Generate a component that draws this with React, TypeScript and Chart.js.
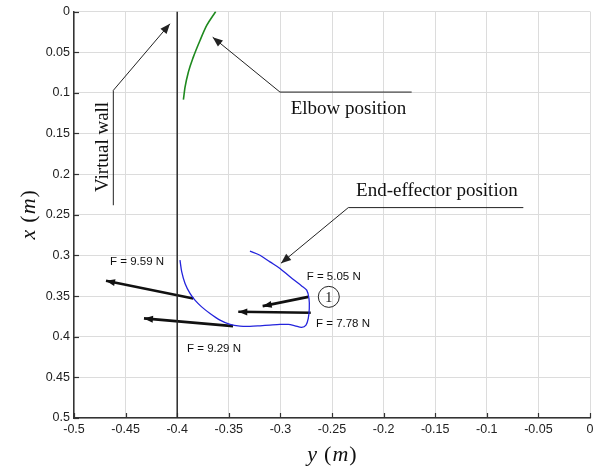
import { useEffect, useRef } from "react";
import { Chart, registerables } from "chart.js";

Chart.register(...registerables);

// Axis ticks (horizontal axis = y (m), vertical axis = x (m), reversed)
const hTicks = [-0.5, -0.45, -0.4, -0.35, -0.3, -0.25, -0.2, -0.15, -0.1, -0.05, 0];
const vTicks = [0, 0.05, 0.1, 0.15, 0.2, 0.25, 0.3, 0.35, 0.4, 0.45, 0.5];

// Virtual wall
const wallH = [-0.4, -0.4];
const wallV = [0, 0.5];

// Elbow position (green)
const elbowH = [-0.394, -0.3924, -0.3892, -0.3844, -0.3779, -0.3714, -0.3627];
const elbowV = [0.1085, 0.093, 0.0746, 0.0561, 0.0356, 0.0172, 0];

// End-effector position (blue)
const effH = [
  -0.3973, -0.3956, -0.3924, -0.3876, -0.3828, -0.3763, -0.3682, -0.3585, -0.3488, -0.3391,
  -0.3295, -0.3198, -0.3101, -0.3004, -0.2923, -0.2859, -0.2794, -0.2752, -0.273, -0.272,
  -0.2723, -0.2745, -0.2794, -0.2907, -0.3004, -0.3101, -0.3198, -0.3295,
];
const effV = [
  0.3059, 0.3203, 0.3345, 0.3468, 0.355, 0.3633, 0.3714, 0.3796, 0.3849, 0.387,
  0.3873, 0.3866, 0.3857, 0.3849, 0.3849, 0.3866, 0.3886, 0.3857, 0.3775, 0.3652,
  0.353, 0.3428, 0.3375, 0.3264, 0.3161, 0.308, 0.2998, 0.2948,
];

// Force arrows
const forceLabels = ["F = 9.59 N", "F = 9.29 N", "F = 7.78 N", "F = 5.05 N"];
const forceStartH = [-0.3844, -0.3459, -0.2706, -0.273];
const forceStartV = [0.353, 0.387, 0.3706, 0.351];
const forceTipH = [-0.469, -0.4322, -0.3408, -0.3172];
const forceTipV = [0.3313, 0.3775, 0.3694, 0.3624];
const forceLabelH = [-0.4651, -0.3905, -0.2655, -0.2745];
const forceLabelV = [0.308, 0.4144, 0.3837, 0.3264];

// Leader lines for annotations
const wallLeaderH = [-0.4619, -0.4619, -0.407];
const wallLeaderV = [0.2383, 0.097, 0.0151];
const elbowLeaderH = [-0.1728, -0.3004, -0.3656];
const elbowLeaderV = [0.0991, 0.0991, 0.0316];
const effLeaderH = [-0.0646, -0.2342, -0.2994];
const effLeaderV = [0.2412, 0.2412, 0.3096];

// Annotation texts
const noteTexts = ["Elbow position", "End-effector position", "Virtual wall"];
const noteH = [-0.29, -0.2267, -0.4666];
const noteV = [0.1259, 0.2273, 0.222];
const circleLabel = "1";
const circleH = -0.2531;
const circleV = 0.351;

const pts = (h: number[], v: number[]) => h.map((x, i) => ({ x, y: v[i] }));

const arrowPlugin = {
  id: "arrowHeads",
  afterDatasetsDraw(chart: any) {
    const ctx = chart.ctx;
    ctx.save();
    ctx.beginPath();
    ctx.rect(chart.chartArea.left, chart.chartArea.top, chart.chartArea.right - chart.chartArea.left, chart.chartArea.bottom - chart.chartArea.top);
    ctx.clip();
    chart.data.datasets.forEach((ds: any, i: number) => {
      if (!ds.arrowHead) return;
      const meta = chart.getDatasetMeta(i);
      const d = meta.data;
      const a = d[d.length - 2];
      const b = d[d.length - 1];
      const ang = Math.atan2(b.y - a.y, b.x - a.x);
      const { len, half } = ds.arrowHead;
      const bx = b.x - len * Math.cos(ang);
      const by = b.y - len * Math.sin(ang);
      ctx.fillStyle = ds.borderColor;
      ctx.beginPath();
      ctx.moveTo(b.x, b.y);
      ctx.lineTo(bx + half * Math.sin(ang), by - half * Math.cos(ang));
      ctx.lineTo(bx - half * Math.sin(ang), by + half * Math.cos(ang));
      ctx.closePath();
      ctx.fill();
    });
    ctx.restore();
  },
};

const decorPlugin = {
  id: "decor",
  beforeDatasetsDraw(chart: any) {
    const { ctx, chartArea, scales } = chart;
    ctx.save();
    ctx.strokeStyle = "#333";
    ctx.lineWidth = 1.2;
    hTicks.forEach((v) => {
      const px = Math.round(scales.x.getPixelForValue(v)) + 0.5;
      ctx.beginPath();
      ctx.moveTo(px, chartArea.bottom);
      ctx.lineTo(px, chartArea.bottom - 5);
      ctx.stroke();
    });
    vTicks.forEach((v) => {
      const py = Math.round(scales.y.getPixelForValue(v)) + 0.5;
      ctx.beginPath();
      ctx.moveTo(chartArea.left, py);
      ctx.lineTo(chartArea.left + 5, py);
      ctx.stroke();
    });
    ctx.restore();
  },
  afterDraw(chart: any) {
    const { ctx, chartArea, scales } = chart;
    const X = (v: number) => scales.x.getPixelForValue(v);
    const Y = (v: number) => scales.y.getPixelForValue(v);
    ctx.save();
    // force labels
    ctx.fillStyle = "#111";
    ctx.font = "11.5px 'Liberation Sans', Arial, sans-serif";
    ctx.textAlign = "left";
    ctx.textBaseline = "middle";
    forceLabels.forEach((t, i) => ctx.fillText(t, X(forceLabelH[i]), Y(forceLabelV[i])));
    // serif notes
    ctx.fillStyle = "#111";
    ctx.font = "19px 'Liberation Serif', 'Times New Roman', serif";
    ctx.textBaseline = "alphabetic";
    ctx.fillText(noteTexts[0], X(noteH[0]), Y(noteV[0]));
    ctx.fillText(noteTexts[1], X(noteH[1]), Y(noteV[1]));
    ctx.save();
    ctx.translate(X(noteH[2]), Y(noteV[2]));
    ctx.rotate(-Math.PI / 2);
    ctx.fillText(noteTexts[2], 0, 0);
    ctx.restore();
    // circled 1
    const cx = X(circleH);
    const cy = Y(circleV);
    ctx.strokeStyle = "#222";
    ctx.lineWidth = 1;
    ctx.beginPath();
    ctx.arc(cx, cy, 10.5, 0, Math.PI * 2);
    ctx.stroke();
    ctx.font = "14px 'Liberation Serif', serif";
    ctx.textAlign = "center";
    ctx.textBaseline = "middle";
    ctx.fillText(circleLabel, cx, cy + 1);
    // axis titles (mixed italic / upright)
    const drawMixed = (parts: [string, boolean, number][], centerX: number, baseY: number) => {
      const it = "italic 22px 'Liberation Serif', serif";
      const up = "22px 'Liberation Serif', serif";
      let total = 0;
      parts.forEach(([t, ital, gap]) => {
        ctx.font = ital ? it : up;
        total += ctx.measureText(t).width + gap;
      });
      let x = centerX - total / 2;
      ctx.textAlign = "left";
      ctx.textBaseline = "alphabetic";
      parts.forEach(([t, ital, gap]) => {
        ctx.font = ital ? it : up;
        ctx.fillText(t, x, baseY);
        x += ctx.measureText(t).width + gap;
      });
    };
    ctx.fillStyle = "#111";
    const hParts: [string, boolean, number][] = [
      ["y", true, 7],
      ["(", false, 1],
      ["m", true, 1],
      [")", false, 0],
    ];
    drawMixed(hParts, (chartArea.left + chartArea.right) / 2, 461);
    const vParts: [string, boolean, number][] = [
      ["x", true, 7],
      ["(", false, 1],
      ["m", true, 1],
      [")", false, 0],
    ];
    ctx.save();
    ctx.translate(35, (chartArea.top + chartArea.bottom) / 2);
    ctx.rotate(-Math.PI / 2);
    drawMixed(vParts, 0, 0);
    ctx.restore();
    ctx.restore();
  },
};

export default function App() {
  const ref = useRef<HTMLCanvasElement | null>(null);
  useEffect(() => {
    if (!ref.current) return;
    const lineDs = (data: any, color: string, width: number, extra: any = {}) => ({
      data,
      borderColor: color,
      backgroundColor: color,
      borderWidth: width,
      showLine: true,
      pointRadius: 0,
      pointHoverRadius: 0,
      fill: false,
      tension: 0,
      ...extra,
    });
    const datasets: any[] = [
      lineDs(pts(wallH, wallV), "#2a2a2a", 1.5),
      lineDs(pts(elbowH, elbowV), "#1f8a1f", 1.6, { cubicInterpolationMode: "monotone", tension: 0.4 }),
      lineDs(pts(effH, effV), "#2424dc", 1.3, { tension: 0.3 }),
    ];
    forceLabels.forEach((_, i) => {
      datasets.push(
        lineDs(
          pts([forceStartH[i], forceTipH[i]], [forceStartV[i], forceTipV[i]]),
          "#111",
          2.6,
          { arrowHead: { len: 9, half: 3.5 } }
        )
      );
    });
    datasets.push(lineDs(pts(wallLeaderH, wallLeaderV), "#222", 1, { arrowHead: { len: 10, half: 4 } }));
    datasets.push(lineDs(pts(elbowLeaderH, elbowLeaderV), "#222", 1, { arrowHead: { len: 10, half: 4 } }));
    datasets.push(lineDs(pts(effLeaderH, effLeaderV), "#222", 1, { arrowHead: { len: 10, half: 4 } }));

    const tickFont = { family: "'Liberation Sans', Arial, sans-serif", size: 12.5 };
    const chart = new Chart(ref.current, {
      type: "scatter",
      data: { datasets },
      options: {
        animation: false,
        responsive: false,
        devicePixelRatio: 1,
        events: [],
        layout: { padding: { left: 0, right: 26, top: 11, bottom: 0 } },
        plugins: { legend: { display: false }, tooltip: { enabled: false } },
        scales: {
          x: {
            type: "linear",
            position: "bottom",
            min: -0.5,
            max: 0,
            afterBuildTicks: (s: any) => {
              s.ticks = hTicks.map((v) => ({ value: v }));
            },
            afterFit: (s: any) => {
              s.height = 53;
            },
            ticks: {
              callback: (v: any) => String(v),
              font: tickFont,
              color: "#222",
              padding: 4,
              maxRotation: 0,
              autoSkip: false,
            },
            grid: { color: "#dcdcdc", drawTicks: false, lineWidth: 1 },
            border: { color: "#333", width: 1.5 },
          },
          y: {
            type: "linear",
            position: "left",
            min: 0,
            max: 0.5,
            reverse: true,
            afterBuildTicks: (s: any) => {
              s.ticks = vTicks.map((v) => ({ value: v }));
            },
            afterFit: (s: any) => {
              s.width = 74;
            },
            ticks: {
              callback: (v: any) => String(v),
              font: tickFont,
              color: "#222",
              padding: 4,
              autoSkip: false,
            },
            grid: { color: "#dcdcdc", drawTicks: false, lineWidth: 1 },
            border: { color: "#333", width: 1.5 },
          },
        },
      } as any,
      plugins: [decorPlugin, arrowPlugin],
    });
    return () => chart.destroy();
  }, []);
  return (
    <div style={{ position: "absolute", left: 0, top: 0, width: 616, height: 471, background: "#fff" }}>
      <canvas ref={ref} width={616} height={471} style={{ display: "block" }} />
    </div>
  );
}
